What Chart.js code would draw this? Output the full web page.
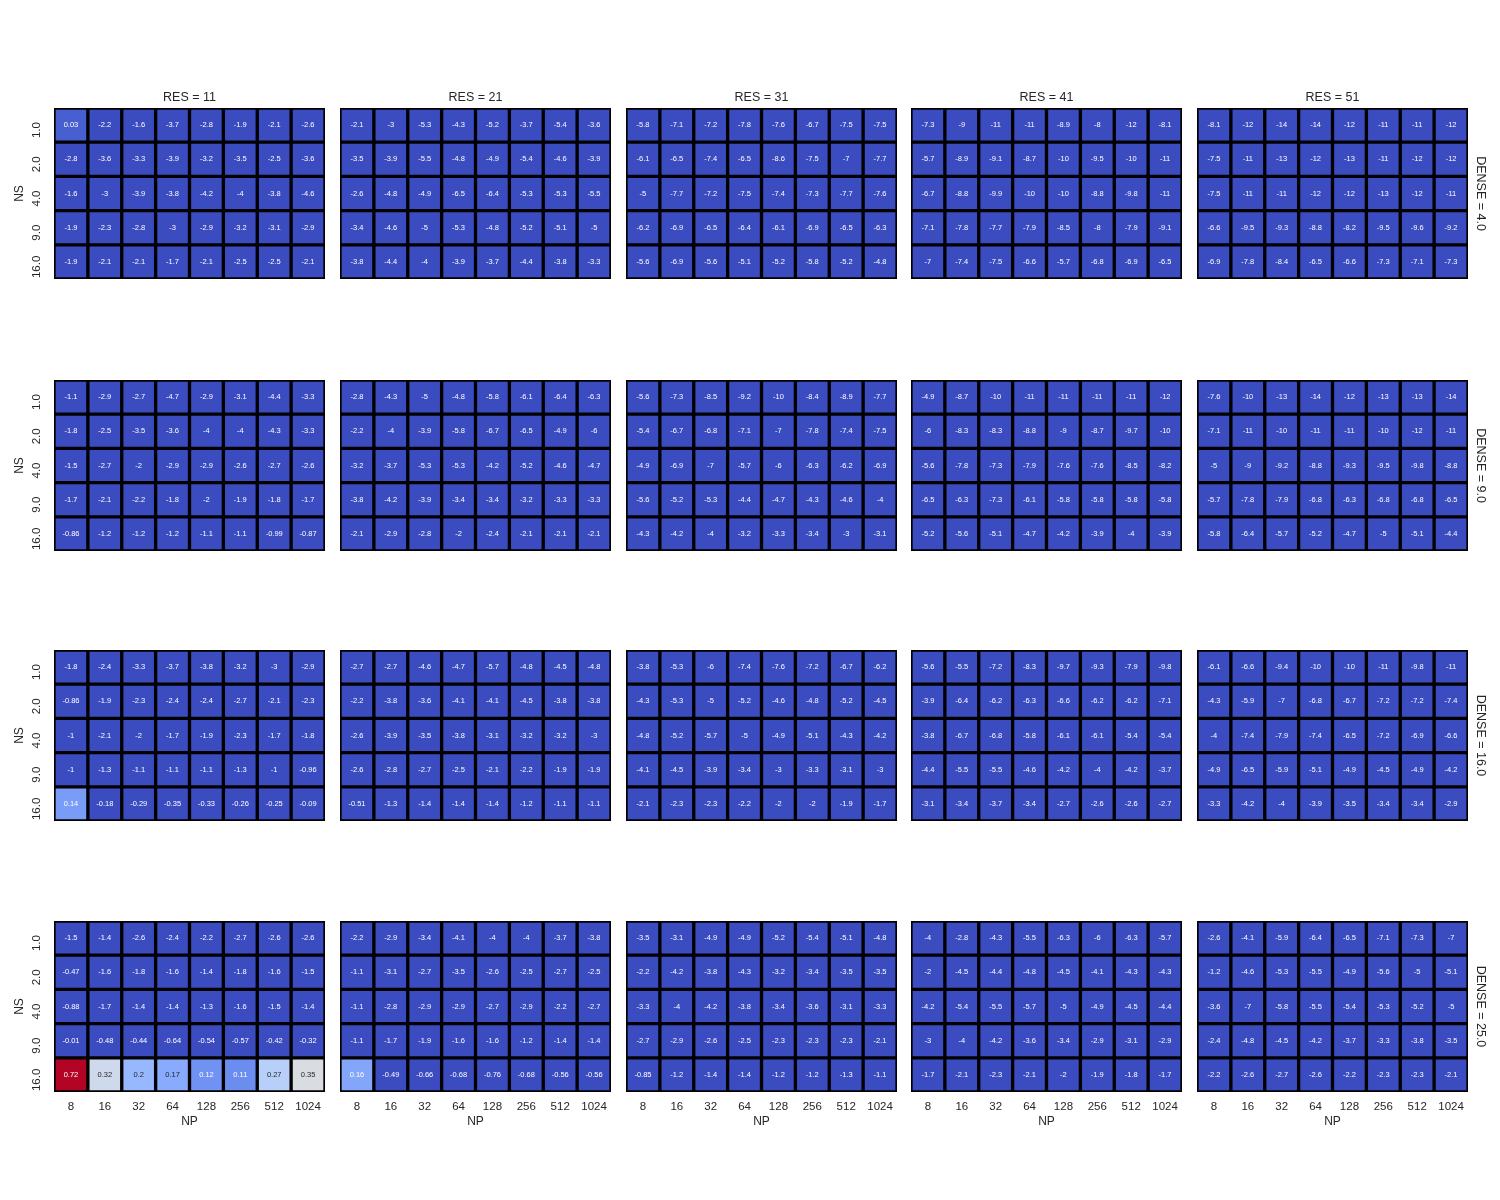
<!DOCTYPE html>
<html>
<head>
<meta charset="utf-8">
<script src="https://cdn.jsdelivr.net/npm/chart.js@4.4.1/dist/chart.umd.min.js"></script>
<style>
  body { margin: 0; background: #fff; }
  #fig { position: relative; width: 1500px; height: 1200px; background: #fff; }
  #fig canvas { position: absolute; }
</style>
</head>
<body>
<div id="fig"></div>
<script>
// facet labels and axis categories
const resLabels = ['11', '21', '31', '41', '51'];
const denseLabels = ['4.0', '9.0', '16.0', '25.0'];
const nsLabels = ['1.0', '2.0', '4.0', '9.0', '16.0'];
const npLabels = ['8', '16', '32', '64', '128', '256', '512', '1024'];

// one grid per facet: rows follow nsLabels, columns follow npLabels
const dense4_res11 = [
    [0.03, -2.2, -1.6, -3.7, -2.8, -1.9, -2.1, -2.6],
    [-2.8, -3.6, -3.3, -3.9, -3.2, -3.5, -2.5, -3.6],
    [-1.6, -3, -3.9, -3.8, -4.2, -4, -3.8, -4.6],
    [-1.9, -2.3, -2.8, -3, -2.9, -3.2, -3.1, -2.9],
    [-1.9, -2.1, -2.1, -1.7, -2.1, -2.5, -2.5, -2.1]
];
const dense4_res21 = [
    [-2.1, -3, -5.3, -4.3, -5.2, -3.7, -5.4, -3.6],
    [-3.5, -3.9, -5.5, -4.8, -4.9, -5.4, -4.6, -3.9],
    [-2.6, -4.8, -4.9, -6.5, -6.4, -5.3, -5.3, -5.5],
    [-3.4, -4.6, -5, -5.3, -4.8, -5.2, -5.1, -5],
    [-3.8, -4.4, -4, -3.9, -3.7, -4.4, -3.8, -3.3]
];
const dense4_res31 = [
    [-5.8, -7.1, -7.2, -7.8, -7.6, -6.7, -7.5, -7.5],
    [-6.1, -6.5, -7.4, -6.5, -8.6, -7.5, -7, -7.7],
    [-5, -7.7, -7.2, -7.5, -7.4, -7.3, -7.7, -7.6],
    [-6.2, -6.9, -6.5, -6.4, -6.1, -6.9, -6.5, -6.3],
    [-5.6, -6.9, -5.6, -5.1, -5.2, -5.8, -5.2, -4.8]
];
const dense4_res41 = [
    [-7.3, -9, -11, -11, -8.9, -8, -12, -8.1],
    [-5.7, -8.9, -9.1, -8.7, -10, -9.5, -10, -11],
    [-6.7, -8.8, -9.9, -10, -10, -8.8, -9.8, -11],
    [-7.1, -7.8, -7.7, -7.9, -8.5, -8, -7.9, -9.1],
    [-7, -7.4, -7.5, -6.6, -5.7, -6.8, -6.9, -6.5]
];
const dense4_res51 = [
    [-8.1, -12, -14, -14, -12, -11, -11, -12],
    [-7.5, -11, -13, -12, -13, -11, -12, -12],
    [-7.5, -11, -11, -12, -12, -13, -12, -11],
    [-6.6, -9.5, -9.3, -8.8, -8.2, -9.5, -9.6, -9.2],
    [-6.9, -7.8, -8.4, -6.5, -6.6, -7.3, -7.1, -7.3]
];
const dense9_res11 = [
    [-1.1, -2.9, -2.7, -4.7, -2.9, -3.1, -4.4, -3.3],
    [-1.8, -2.5, -3.5, -3.6, -4, -4, -4.3, -3.3],
    [-1.5, -2.7, -2, -2.9, -2.9, -2.6, -2.7, -2.6],
    [-1.7, -2.1, -2.2, -1.8, -2, -1.9, -1.8, -1.7],
    [-0.86, -1.2, -1.2, -1.2, -1.1, -1.1, -0.99, -0.87]
];
const dense9_res21 = [
    [-2.8, -4.3, -5, -4.8, -5.8, -6.1, -6.4, -6.3],
    [-2.2, -4, -3.9, -5.8, -6.7, -6.5, -4.9, -6],
    [-3.2, -3.7, -5.3, -5.3, -4.2, -5.2, -4.6, -4.7],
    [-3.8, -4.2, -3.9, -3.4, -3.4, -3.2, -3.3, -3.3],
    [-2.1, -2.9, -2.8, -2, -2.4, -2.1, -2.1, -2.1]
];
const dense9_res31 = [
    [-5.6, -7.3, -8.5, -9.2, -10, -8.4, -8.9, -7.7],
    [-5.4, -6.7, -6.8, -7.1, -7, -7.8, -7.4, -7.5],
    [-4.9, -6.9, -7, -5.7, -6, -6.3, -6.2, -6.9],
    [-5.6, -5.2, -5.3, -4.4, -4.7, -4.3, -4.6, -4],
    [-4.3, -4.2, -4, -3.2, -3.3, -3.4, -3, -3.1]
];
const dense9_res41 = [
    [-4.9, -8.7, -10, -11, -11, -11, -11, -12],
    [-6, -8.3, -8.3, -8.8, -9, -8.7, -9.7, -10],
    [-5.6, -7.8, -7.3, -7.9, -7.6, -7.6, -8.5, -8.2],
    [-6.5, -6.3, -7.3, -6.1, -5.8, -5.8, -5.8, -5.8],
    [-5.2, -5.6, -5.1, -4.7, -4.2, -3.9, -4, -3.9]
];
const dense9_res51 = [
    [-7.6, -10, -13, -14, -12, -13, -13, -14],
    [-7.1, -11, -10, -11, -11, -10, -12, -11],
    [-5, -9, -9.2, -8.8, -9.3, -9.5, -9.8, -8.8],
    [-5.7, -7.8, -7.9, -6.8, -6.3, -6.8, -6.8, -6.5],
    [-5.8, -6.4, -5.7, -5.2, -4.7, -5, -5.1, -4.4]
];
const dense16_res11 = [
    [-1.8, -2.4, -3.3, -3.7, -3.8, -3.2, -3, -2.9],
    [-0.86, -1.9, -2.3, -2.4, -2.4, -2.7, -2.1, -2.3],
    [-1, -2.1, -2, -1.7, -1.9, -2.3, -1.7, -1.8],
    [-1, -1.3, -1.1, -1.1, -1.1, -1.3, -1, -0.96],
    [0.14, -0.18, -0.29, -0.35, -0.33, -0.26, -0.25, -0.09]
];
const dense16_res21 = [
    [-2.7, -2.7, -4.6, -4.7, -5.7, -4.8, -4.5, -4.8],
    [-2.2, -3.8, -3.6, -4.1, -4.1, -4.5, -3.8, -3.8],
    [-2.6, -3.9, -3.5, -3.8, -3.1, -3.2, -3.2, -3],
    [-2.6, -2.8, -2.7, -2.5, -2.1, -2.2, -1.9, -1.9],
    [-0.51, -1.3, -1.4, -1.4, -1.4, -1.2, -1.1, -1.1]
];
const dense16_res31 = [
    [-3.8, -5.3, -6, -7.4, -7.6, -7.2, -6.7, -6.2],
    [-4.3, -5.3, -5, -5.2, -4.6, -4.8, -5.2, -4.5],
    [-4.8, -5.2, -5.7, -5, -4.9, -5.1, -4.3, -4.2],
    [-4.1, -4.5, -3.9, -3.4, -3, -3.3, -3.1, -3],
    [-2.1, -2.3, -2.3, -2.2, -2, -2, -1.9, -1.7]
];
const dense16_res41 = [
    [-5.6, -5.5, -7.2, -8.3, -9.7, -9.3, -7.9, -9.8],
    [-3.9, -6.4, -6.2, -6.3, -6.6, -6.2, -6.2, -7.1],
    [-3.8, -6.7, -6.8, -5.8, -6.1, -6.1, -5.4, -5.4],
    [-4.4, -5.5, -5.5, -4.6, -4.2, -4, -4.2, -3.7],
    [-3.1, -3.4, -3.7, -3.4, -2.7, -2.6, -2.6, -2.7]
];
const dense16_res51 = [
    [-6.1, -6.6, -9.4, -10, -10, -11, -9.8, -11],
    [-4.3, -5.9, -7, -6.8, -6.7, -7.2, -7.2, -7.4],
    [-4, -7.4, -7.9, -7.4, -6.5, -7.2, -6.9, -6.6],
    [-4.9, -6.5, -5.9, -5.1, -4.9, -4.5, -4.9, -4.2],
    [-3.3, -4.2, -4, -3.9, -3.5, -3.4, -3.4, -2.9]
];
const dense25_res11 = [
    [-1.5, -1.4, -2.6, -2.4, -2.2, -2.7, -2.6, -2.6],
    [-0.47, -1.6, -1.8, -1.6, -1.4, -1.8, -1.6, -1.5],
    [-0.88, -1.7, -1.4, -1.4, -1.3, -1.6, -1.5, -1.4],
    [-0.01, -0.48, -0.44, -0.64, -0.54, -0.57, -0.42, -0.32],
    [0.72, 0.32, 0.2, 0.17, 0.12, 0.11, 0.27, 0.35]
];
const dense25_res21 = [
    [-2.2, -2.9, -3.4, -4.1, -4, -4, -3.7, -3.8],
    [-1.1, -3.1, -2.7, -3.5, -2.6, -2.5, -2.7, -2.5],
    [-1.1, -2.8, -2.9, -2.9, -2.7, -2.9, -2.2, -2.7],
    [-1.1, -1.7, -1.9, -1.6, -1.6, -1.2, -1.4, -1.4],
    [0.16, -0.49, -0.66, -0.68, -0.76, -0.68, -0.56, -0.56]
];
const dense25_res31 = [
    [-3.5, -3.1, -4.9, -4.9, -5.2, -5.4, -5.1, -4.8],
    [-2.2, -4.2, -3.8, -4.3, -3.2, -3.4, -3.5, -3.5],
    [-3.3, -4, -4.2, -3.8, -3.4, -3.6, -3.1, -3.3],
    [-2.7, -2.9, -2.6, -2.5, -2.3, -2.3, -2.3, -2.1],
    [-0.85, -1.2, -1.4, -1.4, -1.2, -1.2, -1.3, -1.1]
];
const dense25_res41 = [
    [-4, -2.8, -4.3, -5.5, -6.3, -6, -6.3, -5.7],
    [-2, -4.5, -4.4, -4.8, -4.5, -4.1, -4.3, -4.3],
    [-4.2, -5.4, -5.5, -5.7, -5, -4.9, -4.5, -4.4],
    [-3, -4, -4.2, -3.6, -3.4, -2.9, -3.1, -2.9],
    [-1.7, -2.1, -2.3, -2.1, -2, -1.9, -1.8, -1.7]
];
const dense25_res51 = [
    [-2.6, -4.1, -5.9, -6.4, -6.5, -7.1, -7.3, -7],
    [-1.2, -4.6, -5.3, -5.5, -4.9, -5.6, -5, -5.1],
    [-3.6, -7, -5.8, -5.5, -5.4, -5.3, -5.2, -5],
    [-2.4, -4.8, -4.5, -4.2, -3.7, -3.3, -3.8, -3.5],
    [-2.2, -2.6, -2.7, -2.6, -2.2, -2.3, -2.3, -2.1]
];

const facets = [
    [dense4_res11, dense4_res21, dense4_res31, dense4_res41, dense4_res51],
    [dense9_res11, dense9_res21, dense9_res31, dense9_res41, dense9_res51],
    [dense16_res11, dense16_res21, dense16_res31, dense16_res41, dense16_res51],
    [dense25_res11, dense25_res21, dense25_res31, dense25_res41, dense25_res51]
];

// colour scale limits
const vmin = 0;
const vmax = 0.72;

// coolwarm, 33 evenly spaced stops
const coolwarm = [
    [59, 76, 192], [68, 90, 204], [77, 104, 215], [87, 117, 225], [98, 130, 234],
    [108, 142, 241], [119, 154, 247], [130, 165, 251], [141, 176, 254], [152, 185, 255],
    [163, 194, 255], [174, 201, 253], [184, 208, 249], [194, 213, 244], [204, 217, 238],
    [213, 219, 230], [221, 221, 221], [229, 216, 209], [236, 211, 197], [241, 204, 185],
    [245, 196, 173], [247, 187, 160], [247, 177, 148], [247, 166, 135], [244, 154, 123],
    [241, 141, 111], [236, 127, 99], [229, 112, 88], [222, 96, 77], [213, 80, 66],
    [203, 62, 56], [192, 40, 47], [180, 4, 38]
];

function cmap(v) {
    let t = (v - vmin) / (vmax - vmin);
    t = Math.max(0, Math.min(1, t));
    const pos = t * (coolwarm.length - 1);
    const i = Math.min(Math.floor(pos), coolwarm.length - 2);
    const f = pos - i;
    return coolwarm[i].map((c, k) => Math.round(c + (coolwarm[i + 1][k] - c) * f));
}

function rgb(c) {
    return `rgb(${c[0]}, ${c[1]}, ${c[2]})`;
}

// pick dark or white text the way seaborn does (relative luminance)
function textColorFor(c) {
    const lin = c.map(x => {
        x = x / 255;
        return x <= 0.03928 ? x / 12.92 : Math.pow((x + 0.055) / 1.055, 2.4);
    });
    const lum = 0.2126 * lin[0] + 0.7152 * lin[1] + 0.0722 * lin[2];
    return lum > 0.408 ? '#262626' : '#ffffff';
}

const TEXT = '#262626';
const FONT = '"Liberation Sans", Arial, sans-serif';
Chart.defaults.font.family = FONT;
Chart.defaults.color = TEXT;

// figure layout (pixels)
const panelLeft = [54, 340, 626, 911, 1197];
const panelTop = [108, 380, 650, 921];
const PANEL_W = 271, PANEL_H = 171;
const AXIS_W = 45, RIGHT_W = 25, TITLE_H = 25, AXIS_H = 45;

const cellLabels = {
    id: 'cellLabels',
    beforeDatasetsDraw(chart) {
        const { ctx, chartArea: a } = chart;
        ctx.save();
        ctx.fillStyle = '#000';
        ctx.fillRect(a.left, a.top, a.right - a.left, a.bottom - a.top);
        ctx.restore();
    },
    afterDatasetsDraw(chart) {
        const ctx = chart.ctx;
        ctx.save();
        ctx.font = '7.5px ' + FONT;
        ctx.textAlign = 'center';
        ctx.textBaseline = 'middle';
        chart.data.datasets.forEach((ds, i) => {
            chart.getDatasetMeta(i).data.forEach((bar, j) => {
                const v = ds.values[j];
                ctx.fillStyle = textColorFor(cmap(v));
                ctx.fillText(String(v), bar.x, (bar.y + bar.base) / 2);
            });
        });
        ctx.restore();
    }
};

const fig = document.getElementById('fig');

function makePanel(r, c) {
    const grid = facets[r][c];
    const firstCol = c === 0;
    const lastCol = c === resLabels.length - 1;
    const topRow = r === 0;
    const bottomRow = r === denseLabels.length - 1;

    const canvas = document.createElement('canvas');
    canvas.width = AXIS_W + PANEL_W + RIGHT_W;
    canvas.height = TITLE_H + PANEL_H + AXIS_H;
    canvas.style.left = (panelLeft[c] - AXIS_W) + 'px';
    canvas.style.top = (panelTop[r] - TITLE_H) + 'px';
    fig.appendChild(canvas);

    const datasets = nsLabels.map((ns, i) => ({
        label: 'NS ' + ns,
        data: grid[i].map(() => [i, i + 1]),
        values: grid[i],
        backgroundColor: grid[i].map(v => rgb(cmap(v))),
        borderColor: '#000',
        borderWidth: 2,
        borderSkipped: false,
        barPercentage: 1,
        categoryPercentage: 1
    }));

    new Chart(canvas, {
        type: 'bar',
        data: { labels: npLabels, datasets },
        options: {
            responsive: false,
            animation: false,
            devicePixelRatio: 1,
            layout: { padding: 0 },
            plugins: {
                legend: { display: false },
                tooltip: { enabled: false },
                title: {
                    display: true,
                    fullSize: false,
                    text: topRow ? 'RES = ' + resLabels[c] : '',
                    color: TEXT,
                    font: { size: 12.5, weight: 'normal' },
                    padding: { top: 7.5, bottom: 2.5 }
                }
            },
            scales: {
                x: {
                    stacked: true,
                    grid: { display: false, drawTicks: false },
                    border: { display: false },
                    ticks: { display: bottomRow, padding: 7.5, font: { size: 11.5 }, maxRotation: 0, autoSkip: false },
                    title: { display: bottomRow, text: 'NP', font: { size: 12 }, padding: { top: 0, bottom: 7.8 } },
                    afterFit: s => { s.height = AXIS_H; }
                },
                y: {
                    min: 0,
                    max: nsLabels.length,
                    reverse: true,
                    grid: { display: false, drawTicks: false },
                    border: { display: false },
                    afterBuildTicks: s => { s.ticks = nsLabels.map((_, i) => ({ value: i + 0.5 })); },
                    ticks: {
                        display: firstCol,
                        callback: v => nsLabels[Math.floor(v)],
                        minRotation: 90,
                        maxRotation: 90,
                        crossAlign: 'center',
                        labelOffset: 5,
                        padding: 6,
                        font: { size: 11.5 }
                    },
                    title: { display: firstCol, text: 'NS', font: { size: 12 }, padding: { top: 3.8, bottom: 0 } },
                    afterFit: s => { s.width = AXIS_W; }
                },
                y2: {
                    position: 'right',
                    grid: { display: false, drawTicks: false },
                    border: { display: false },
                    ticks: { display: false },
                    title: { display: lastCol, text: 'DENSE = ' + denseLabels[r], font: { size: 12.5 }, padding: { top: 5, bottom: 0 } },
                    afterFit: s => { s.width = RIGHT_W; }
                }
            }
        },
        plugins: [cellLabels]
    });
}

for (let r = 0; r < denseLabels.length; r++) {
    for (let c = 0; c < resLabels.length; c++) {
        makePanel(r, c);
    }
}
</script>
</body>
</html>
